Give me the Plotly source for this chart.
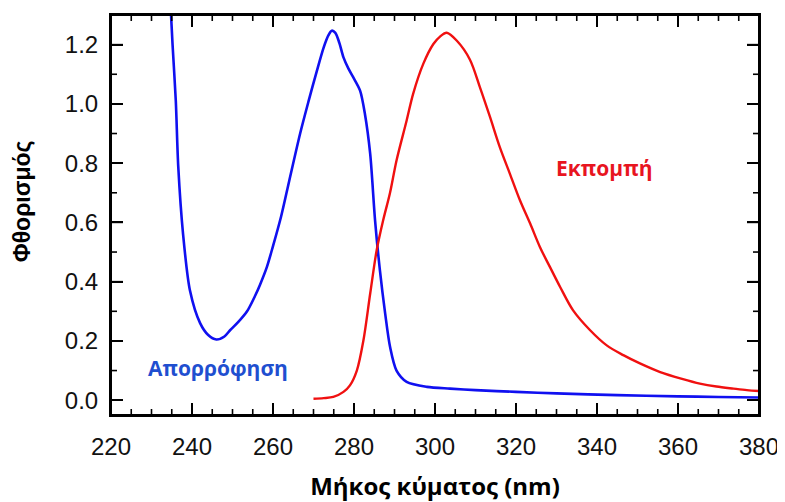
import plotly.graph_objects as go

# Absorption (blue)
abs_nm = [234.6, 235.2, 236.0, 236.6, 237.8, 239.5, 242.0, 244.0, 246.0, 248.0,
          249.4, 251.5, 253.6, 255.5, 256.8, 258.5, 260.0, 262.0, 264.0, 266.7,
          268.8, 270.8, 272.5, 273.7, 274.5, 275.4, 276.4, 277.4, 278.6, 279.8,
          281.5, 282.7, 284.0, 285.2, 286.4, 287.7, 288.9, 290.5, 293.0, 298.0,
          303.7, 310.0, 320.0, 330.0, 345.0, 360.0, 370.0, 380.0]
abs_val = [1.36, 1.20, 1.01, 0.79, 0.56, 0.37, 0.26, 0.22, 0.205, 0.215,
           0.236, 0.265, 0.30, 0.35, 0.39, 0.45, 0.52, 0.62, 0.74, 0.90,
           1.01, 1.11, 1.19, 1.232, 1.247, 1.24, 1.205, 1.157, 1.12, 1.09,
           1.045, 0.966, 0.831, 0.607, 0.438, 0.292, 0.18, 0.10, 0.062, 0.045,
           0.039, 0.034, 0.028, 0.023, 0.017, 0.013, 0.011, 0.009]

# Emission (red)
em_nm = [270.0, 272.5, 274.9, 277.4, 279.0, 280.7, 282.3, 284.0, 285.6, 287.2,
         288.9, 290.5, 293.0, 294.6, 297.1, 299.6, 301.3, 302.9, 305.4, 308.6,
         311.1, 313.6, 316.0, 318.5, 321.0, 323.5, 325.9, 328.4, 330.9, 334.1,
         338.3, 342.4, 346.5, 350.6, 355.6, 361.0, 365.4, 369.5, 373.7, 377.0, 380.0]
em_val = [0.005, 0.007, 0.011, 0.028, 0.05, 0.10, 0.20, 0.36, 0.506, 0.607,
          0.70, 0.809, 0.944, 1.034, 1.135, 1.202, 1.228, 1.240, 1.213, 1.150,
          1.056, 0.955, 0.854, 0.764, 0.674, 0.596, 0.517, 0.449, 0.382, 0.303,
          0.236, 0.185, 0.152, 0.124, 0.095, 0.072, 0.056, 0.046, 0.039, 0.034, 0.031]

x_ticks = [220, 240, 260, 280, 300, 320, 340, 360, 380]
y_ticks = [0.0, 0.2, 0.4, 0.6, 0.8, 1.0, 1.2]
y_labels = ["0.0", "0.2", "0.4", "0.6", "0.8", "1.0", "1.2"]
x_range = [220, 380]
y_range = [-0.05, 1.3]
x_minor_step = 5
y_minor_step = 0.1

# plot-area size in pixels (used only to size the tick marks)
W, H = 777, 494
ML, MR, MT, MB = 103, 26, 7, 87
PW, PH = W - ML - MR, H - MT - MB

fig = go.Figure()
fig.add_trace(go.Scatter(x=abs_nm, y=abs_val, mode="lines",
                         line=dict(color="#1010f0", width=2.6, shape="spline", smoothing=0.8),
                         name="Απορρόφηση", showlegend=False))
fig.add_trace(go.Scatter(x=em_nm, y=em_val, mode="lines",
                         line=dict(color="#f01010", width=2.4, shape="spline", smoothing=0.9),
                         name="Εκπομπή", showlegend=False))

# Tick marks as line traces (inside ticks on all four sides), derived from tick arrays
x_unit = (x_range[1] - x_range[0]) / PW
y_unit = (y_range[1] - y_range[0]) / PH
tx, ty = [], []
n_xminor = int(round((x_range[1] - x_range[0]) / x_minor_step))
for i in range(1, n_xminor):
    xv = x_range[0] + i * x_minor_step
    ln = (12 if xv in x_ticks else 6) * y_unit
    tx += [xv, xv, None, xv, xv, None]
    ty += [y_range[0], y_range[0] + ln, None, y_range[1], y_range[1] - ln, None]
n_yminor = int(round((y_ticks[-1] - y_ticks[0]) / y_minor_step))
for i in range(0, n_yminor + 2):
    yv = round(y_ticks[0] + i * y_minor_step, 3)
    if yv >= y_range[1]:
        continue
    ln = (12 if any(abs(yv - t) < 1e-6 for t in y_ticks) else 6) * x_unit
    tx += [x_range[0], x_range[0] + ln, None, x_range[1], x_range[1] - ln, None]
    ty += [yv, yv, None, yv, yv, None]
fig.add_trace(go.Scatter(x=tx, y=ty, mode="lines", line=dict(color="black", width=1.6),
                         hoverinfo="skip", showlegend=False, connectgaps=False, cliponaxis=False))

axis_common = dict(showline=True, linecolor="black", linewidth=2, mirror="ticks",
                   ticks="inside", tickcolor="black", tickwidth=2, ticklen=12,
                   showgrid=False, zeroline=False, automargin=False,
                   tickfont=dict(family="Liberation Sans, Arial", size=24, color="#111"))

fig.update_xaxes(range=x_range, tickmode="array", tickvals=x_ticks,
                 ticktext=[str(v) for v in x_ticks], ticklabelstandoff=9,
                 title=dict(text="<b>Μήκος κύματος (nm)</b>", font=dict(family="Open Sans", size=24, color="black"), standoff=26),
                 **axis_common)
fig.update_yaxes(range=y_range, tickmode="array", tickvals=y_ticks, ticktext=y_labels,
                 ticklabelstandoff=6,
                 **axis_common)

fig.update_layout(shapes=[dict(type="rect", xref="paper", yref="paper", x0=0, x1=1, y0=0, y1=1,
                               line=dict(color="black", width=2), fillcolor="rgba(0,0,0,0)",
                               layer="above")])

fig.add_annotation(xref="paper", yref="paper", x=-0.137, y=0.535, text="<b>Φθορισμός</b>",
                   textangle=-90, showarrow=False, xanchor="center", yanchor="middle",
                   font=dict(family="Liberation Sans, Arial", size=23, color="black"))
fig.add_annotation(x=246.3, y=0.108, text="<b>Απορρόφηση</b>", showarrow=False,
                   font=dict(family="Open Sans", size=21, color="#1f4fd0"))
fig.add_annotation(x=341.7, y=0.782, text="<b>Εκπομπή</b>", showarrow=False,
                   font=dict(family="Open Sans", size=21, color="#e8151f"))

# page body has an 8px margin: shrink the figure so the plot area lands where the reference has it
fig.update_layout(width=W, height=H, margin=dict(l=ML, r=MR, t=MT, b=MB),
                  paper_bgcolor="white", plot_bgcolor="white")

fig.write_html("out.html")
